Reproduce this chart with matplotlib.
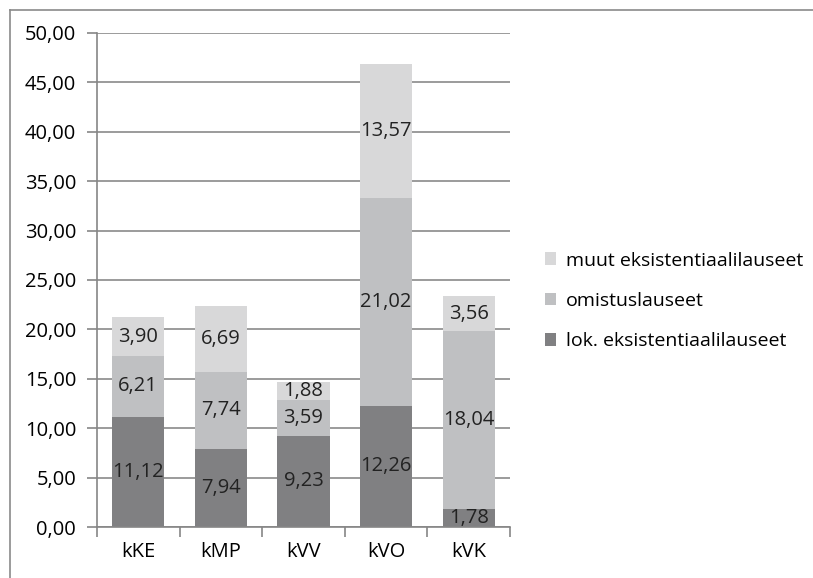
import matplotlib.pyplot as plt
import numpy as np
from matplotlib.lines import Line2D

categories = ['kKE', 'kMP', 'kVV', 'kVO', 'kVK']
lok = [11.12, 7.94, 9.23, 12.26, 1.78]
omistus = [6.21, 7.74, 3.59, 21.02, 18.04]
muut = [3.90, 6.69, 1.88, 13.57, 3.56]

series = [
    ('lok. eksistentiaalilauseet', lok, '#808082'),
    ('omistuslauseet', omistus, '#bfc0c2'),
    ('muut eksistentiaalilauseet', muut, '#d8d8d9'),
]

plt.rcParams['font.family'] = ['Open Sans', 'DejaVu Sans']

fig = plt.figure(figsize=(8.13, 5.78), dpi=100)
ax = fig.add_axes([97 / 813, 1 - 527 / 578, (510 - 97) / 813, (527 - 33) / 578])

x = np.arange(len(categories))
bottom = np.zeros(len(categories))
handles = []
for label, vals, color in series:
    bars = ax.bar(x, vals, width=0.63, bottom=bottom, color=color,
                  label=label, zorder=2)
    ax.bar_label(bars, labels=[f'{v:.2f}'.replace('.', ',') for v in vals],
                 label_type='center', fontsize=14.5, color='#222222')
    bottom += np.array(vals)
    handles.append(bars)

ax.set_xlim(-0.5, len(categories) - 0.5)
ax.set_ylim(0, 50)
ax.set_yticks(np.arange(0, 51, 5))
ax.set_yticklabels([f'{v:.2f}'.replace('.', ',') for v in np.arange(0, 51, 5)])
ax.yaxis.grid(True, color='#8a8a8a', linewidth=1.2, zorder=0)
ax.set_axisbelow(True)

ax.set_xticks(x)
ax.set_xticklabels(categories)
ax.set_xticks(np.arange(-0.5, len(categories)), minor=True)
ax.tick_params(axis='x', which='major', length=0, pad=11, labelsize=14.5)
ax.tick_params(axis='x', which='minor', length=7, color='#868686', width=1.2)
ax.tick_params(axis='y', length=7, color='#868686', width=1.2, pad=8,
               labelsize=14.5)

for s in ['top', 'right']:
    ax.spines[s].set_visible(False)
for s in ['left', 'bottom']:
    ax.spines[s].set_color('#868686')
    ax.spines[s].set_linewidth(1.2)

leg = fig.legend(handles=handles[::-1], loc='upper left',
                 bbox_to_anchor=(527 / 813, 1 - 234 / 578), frameon=False,
                 fontsize=14, handlelength=0.6, handleheight=0.6,
                 handletextpad=0.5, labelspacing=1.15)

# outer border (left and top edges visible)
fig.add_artist(Line2D([10 / 813, 10 / 813], [0, 1 - 10 / 578],
                      color='#8a8a8a', linewidth=1.2))
fig.add_artist(Line2D([10 / 813, 1], [1 - 10 / 578, 1 - 10 / 578],
                      color='#8a8a8a', linewidth=1.2))

fig.savefig('out.png', dpi=100)
